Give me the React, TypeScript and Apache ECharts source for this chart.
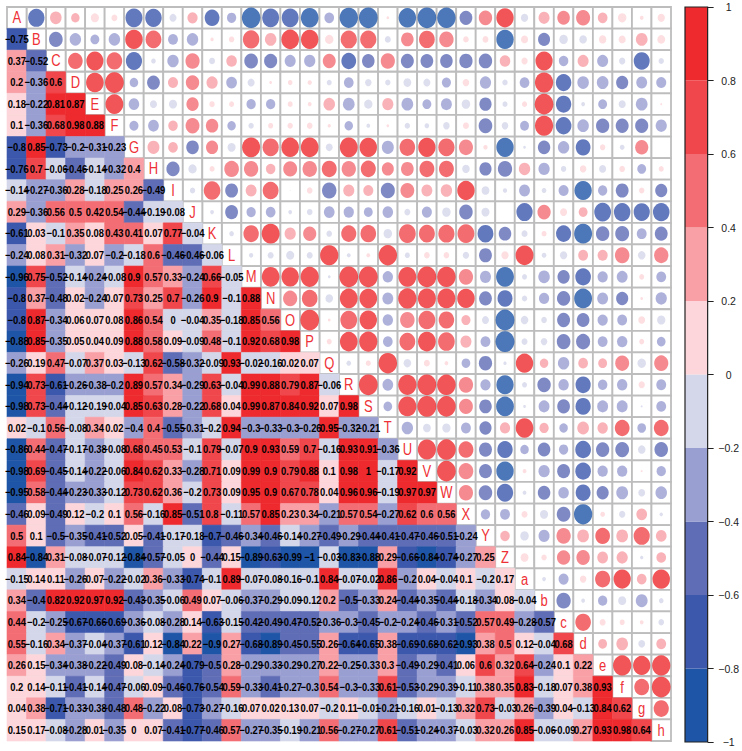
import React, { useEffect, useRef } from "react";
import * as echarts from "echarts";

const names = "A B C D E F G H I J K L M N O P Q R S T U V W X Y Z a b c d e f g h".split(" ");
const Z0 = -0.001;
const lower: number[][] = [
  [],
  [-0.75],
  [0.37, -0.52],
  [0.2, -0.36, 0.6],
  [0.18, -0.22, 0.81, 0.87],
  [0.1, -0.36, 0.68, 0.98, 0.88],
  [-0.8, 0.85, -0.73, -0.201, -0.31, -0.23],
  [-0.76, 0.7, -0.06, -0.46, -0.14, -0.32, 0.399],
  [-0.14, -0.27, -0.36, 0.28, -0.18, 0.25, 0.26, -0.49],
  [0.29, -0.36, 0.56, 0.5, 0.42, 0.54, -0.44, -0.19, -0.08],
  [-0.61, 0.03, -0.1, 0.35, 0.08, 0.43, 0.41, 0.07, 0.77, -0.04],
  [-0.24, 0.08, 0.31, -0.32, 0.07, -0.201, -0.18, 0.599, -0.46, -0.46, -0.06],
  [-0.96, 0.75, -0.52, -0.14, -0.24, -0.08, 0.9, 0.57, 0.33, -0.24, 0.66, -0.05],
  [-0.8, 0.37, -0.48, 0.02, -0.24, 0.07, 0.73, 0.25, 0.7, -0.26, 0.9, -0.1, 0.88],
  [-0.8, 0.87, -0.34, 0.06, 0.07, 0.08, 0.86, 0.54, Z0, -0.04, 0.35, -0.18, 0.85, 0.56],
  [-0.88, 0.85, -0.35, 0.05, 0.04, 0.09, 0.88, 0.58, 0.09, -0.09, 0.48, -0.1, 0.92, 0.68, 0.98],
  [-0.26, 0.19, 0.47, -0.07, 0.37, 0.03, -0.13, 0.62, -0.58, -0.32, -0.09, 0.93, -0.02, -0.16, 0.02, 0.07],
  [-0.94, 0.73, -0.61, -0.26, -0.38, -0.201, 0.89, 0.57, 0.34, -0.29, 0.63, -0.04, 0.99, 0.88, 0.79, 0.87, -0.06],
  [-0.98, 0.73, -0.44, -0.12, -0.19, -0.04, 0.85, 0.63, 0.28, -0.22, 0.68, 0.04, 0.99, 0.87, 0.84, 0.92, 0.07, 0.98],
  [0.02, -0.1, 0.56, -0.08, 0.34, 0.02, -0.4, 0.4, -0.55, -0.31, -0.2, 0.94, -0.3, -0.33, -0.3, -0.26, 0.95, -0.32, -0.21],
  [-0.86, 0.44, -0.47, -0.17, -0.38, -0.08, 0.68, 0.45, 0.53, -0.1, 0.79, -0.07, 0.9, 0.93, 0.59, 0.7, -0.16, 0.93, 0.91, -0.36],
  [-0.98, 0.69, -0.45, -0.14, -0.22, -0.06, 0.84, 0.62, 0.33, -0.28, 0.71, 0.09, 0.99, 0.9, 0.79, 0.88, 0.1, 0.98, 1, -0.17, 0.92],
  [-0.95, 0.58, -0.44, -0.23, -0.33, -0.12, 0.73, 0.62, 0.36, -0.2, 0.73, 0.09, 0.95, 0.9, 0.67, 0.78, 0.04, 0.96, 0.96, -0.19, 0.97, 0.97],
  [-0.46, 0.09, -0.49, 0.12, -0.2, 0.1, 0.56, -0.16, 0.85, -0.51, 0.799, -0.11, 0.57, 0.85, 0.23, 0.34, -0.21, 0.57, 0.54, -0.27, 0.62, 0.599, 0.56],
  [0.5, 0.1, -0.5, -0.35, -0.41, -0.52, 0.05, -0.41, -0.17, -0.18, -0.7, -0.46, -0.34, -0.46, -0.14, -0.27, -0.49, -0.29, -0.44, -0.41, -0.47, -0.46, -0.51, -0.24],
  [0.84, -0.84, 0.31, -0.08, -0.07, -0.12, -0.84, -0.57, -0.05, 0, -0.44, 0.15, -0.89, -0.63, -0.99, -1, -0.03, -0.83, -0.88, 0.29, -0.66, -0.84, -0.74, -0.27, 0.25],
  [-0.15, 0.14, 0.11, -0.26, 0.07, -0.22, -0.02, 0.36, -0.33, -0.74, -0.1, 0.89, -0.07, -0.08, -0.16, -0.1, 0.84, -0.07, -0.02, 0.86, -0.201, 0.04, -0.04, 0.1, -0.2, 0.17],
  [0.34, -0.401, 0.82, 0.92, 0.97, 0.92, -0.43, -0.35, -0.06, 0.49, 0.07, -0.06, -0.37, -0.29, -0.09, -0.12, 0.2, -0.5, -0.33, 0.24, -0.44, -0.35, -0.44, -0.18, -0.34, 0.08, -0.04],
  [0.44, -0.2, -0.25, -0.67, -0.66, -0.69, -0.36, -0.08, -0.28, 0.14, -0.63, -0.15, -0.42, -0.49, -0.47, -0.52, -0.36, -0.3, -0.45, -0.201, -0.24, -0.46, -0.31, -0.52, 0.57, 0.49, -0.28, -0.57],
  [0.55, -0.16, 0.34, -0.37, -0.04, -0.37, -0.61, 0.12, -0.84, 0.22, -0.9, 0.27, -0.68, -0.89, -0.45, -0.55, 0.26, -0.64, -0.65, 0.38, -0.69, -0.68, -0.62, -0.93, 0.38, 0.5, 0.12, -0.04, 0.68],
  [0.26, 0.15, -0.34, -0.38, -0.22, -0.49, 0.08, -0.14, -0.24, -0.79, -0.5, 0.28, -0.29, -0.33, -0.29, -0.27, 0.22, -0.25, -0.33, 0.3, -0.49, -0.29, -0.41, 0.06, 0.6, 0.32, 0.64, -0.24, 0.1, 0.22],
  [0.198, 0.14, -0.11, -0.41, -0.14, -0.47, -0.06, 0.09, -0.46, -0.76, -0.54, 0.59, -0.33, -0.41, -0.27, -0.3, 0.54, -0.3, -0.33, 0.61, -0.53, -0.29, -0.39, -0.11, 0.38, 0.35, 0.83, -0.18, 0.07, 0.38, 0.93],
  [0.04, 0.38, -0.71, -0.33, -0.38, -0.48, 0.48, -0.22, 0.08, -0.73, -0.27, -0.16, 0.07, 0.02, 0.13, 0.07, -0.2, 0.11, -0.01, -0.21, -0.16, 0.01, -0.13, 0.32, 0.73, -0.03, 0.26, -0.39, 0.04, -0.13, 0.84, 0.62],
  [0.15, 0.17, -0.08, -0.28, 0.01, -0.35, 0, 0.07, -0.41, -0.77, -0.46, 0.57, -0.27, -0.35, -0.19, -0.21, 0.56, -0.27, -0.27, 0.61, -0.51, -0.24, -0.37, -0.03, 0.32, 0.26, 0.85, -0.06, -0.09, 0.27, 0.93, 0.98, 0.64],
];
const palette = ["#1F55A6", "#3C58AC", "#5F6DB6", "#9A9FD2", "#D4D7EA", "#FCD6DA", "#F8A0A6", "#F36E74", "#F0474C", "#EE2A2E"];
const barBins = [-1, -0.8, -0.6, -0.4, -0.2, 0, 0.2, 0.4, 0.6, 0.8];

const colorOf = (v: number) => palette[Math.min(9, Math.floor((v + 1) * 5 + 1e-9))];
const textOf = (v: number) => String(Number(v.toFixed(2))).replace("-", "\u2212");

const cellRect = (api: any) => {
  const c = api.coord([api.value(0), api.value(1)]);
  const s = api.size([1, 1]);
  return { cx: c[0], cy: c[1], w: s[0], h: s[1] };
};

export default function App() {
  const ref = useRef<HTMLDivElement>(null);
  useEffect(() => {
    const chart = echarts.init(ref.current!, undefined, { renderer: "svg" });
    const lowerData: number[][] = [];
    const upperCells: number[][] = [];
    const circles: any[] = [];
    const diag: number[][] = [];
    names.forEach((_, i) => {
      diag.push([i, i]);
      lower[i].forEach((v, j) => {
        lowerData.push([j, i, v]);
        upperCells.push([i, j, v]);
        circles.push({ value: [i, j, v], itemStyle: { color: colorOf(v) } });
      });
    });
    const cellW = 664 / 34;
    const cellH = 734 / 34;
    const openCell = (_: any, api: any) => {
      const r = cellRect(api);
      return { type: "rect", shape: { x: r.cx - r.w / 2, y: r.cy - r.h / 2, width: r.w, height: r.h }, style: { fill: "#fff", stroke: "#BDBDBD", lineWidth: 1.8 } };
    };
    chart.setOption({
      animation: false,
      backgroundColor: "#fff",
      tooltip: { show: false },
      textStyle: { fontFamily: "Liberation Sans" },
      grid: [
        { left: 7, top: 7, width: 664, height: 734 },
        { left: 685, top: 7, width: 24, height: 735 },
      ],
      xAxis: [
        { gridIndex: 0, type: "category", data: names, axisLine: { show: false }, axisTick: { show: false }, axisLabel: { show: false }, splitLine: { show: false } },
        { gridIndex: 1, type: "category", data: ["bar"], axisLine: { show: false }, axisTick: { show: false }, axisLabel: { show: false }, splitLine: { show: false } },
      ],
      yAxis: [
        { gridIndex: 0, type: "category", inverse: true, data: names, axisLine: { show: false }, axisTick: { show: false }, axisLabel: { show: false }, splitLine: { show: false } },
        {
          gridIndex: 1, type: "value", position: "right", min: -1, max: 1, interval: 0.2,
          axisLine: { show: false },
          axisTick: { show: true, length: 6, lineStyle: { color: "#222", width: 1 } },
          axisLabel: { show: true, align: "center", margin: 21, fontSize: 10.5, color: "#222", fontFamily: "Liberation Sans",
            formatter: (v: number) => String(Number(v.toFixed(1))).replace("-", "\u2212") },
          splitLine: { show: false },
        },
      ],
      series: [
        { type: "custom", xAxisIndex: 0, yAxisIndex: 0, data: upperCells, z: 1, encode: { x: 0, y: 1 }, renderItem: openCell },
        { type: "custom", xAxisIndex: 0, yAxisIndex: 0, data: diag, z: 1, encode: { x: 0, y: 1 }, renderItem: openCell },
        {
          type: "custom", xAxisIndex: 0, yAxisIndex: 0, data: lowerData, z: 2, encode: { x: 0, y: 1 },
          renderItem: (_: any, api: any) => {
            const r = cellRect(api);
            const c = colorOf(api.value(2));
            return { type: "rect", shape: { x: r.cx - r.w / 2, y: r.cy - r.h / 2, width: r.w, height: r.h }, style: { fill: c, stroke: c, lineWidth: 0.6 } };
          },
        },
        {
          type: "custom", xAxisIndex: 0, yAxisIndex: 0, data: lowerData, z: 5, encode: { x: 0, y: 1 },
          renderItem: (_: any, api: any) => {
            const r = cellRect(api);
            return { type: "text", x: r.cx, y: r.cy, scaleY: 1.15, style: { text: textOf(api.value(2)), align: "center", verticalAlign: "middle", fill: "#000", font: "bold 9.4px 'Liberation Sans'" } };
          },
        },
        {
          type: "custom", xAxisIndex: 0, yAxisIndex: 0, data: diag, z: 5, encode: { x: 0, y: 1 },
          renderItem: (p: any, api: any) => {
            const r = cellRect(api);
            return { type: "text", x: r.cx, y: r.cy, scaleY: 1.25, style: { text: names[p.dataIndex], align: "center", verticalAlign: "middle", fill: "#EE3136", font: "13px 'Liberation Sans'" } };
          },
        },
        {
          type: "scatter", xAxisIndex: 0, yAxisIndex: 0, data: circles, z: 3, symbol: "circle",
          symbolSize: (val: number[]) => {
            const s = 0.97 * Math.sqrt(Math.abs(val[2]));
            return [s * cellW, s * cellH];
          },
          emphasis: { disabled: true },
        },
        {
          type: "custom", xAxisIndex: 1, yAxisIndex: 1, z: 2, data: barBins.map((b, i) => [0, b, i]),
          encode: { x: 0, y: 1 },
          renderItem: (_: any, api: any) => {
            const lo = api.coord([0, api.value(1)]);
            const hi = api.coord([0, api.value(1) + 0.2]);
            const w = api.size([1, 0])[0];
            return { type: "rect", shape: { x: lo[0] - w / 2, y: hi[1], width: w, height: lo[1] - hi[1] }, style: { fill: palette[api.value(2)] } };
          },
        },
        {
          type: "custom", xAxisIndex: 1, yAxisIndex: 1, z: 3, data: [[0, -1]],
          encode: { x: 0, y: 1 },
          renderItem: (_: any, api: any) => {
            const lo = api.coord([0, -1]);
            const hi = api.coord([0, 1]);
            const w = api.size([1, 0])[0];
            return { type: "rect", shape: { x: lo[0] - w / 2, y: hi[1], width: w, height: lo[1] - hi[1] }, style: { fill: "none", stroke: "#222", lineWidth: 1.2 } };
          },
        },
      ],
    });
    return () => chart.dispose();
  }, []);
  return (
    <div style={{ position: "fixed", left: 0, top: 0, width: 742, height: 751, background: "#fff" }}>
      <div ref={ref} style={{ width: 742, height: 751 }} />
    </div>
  );
}
